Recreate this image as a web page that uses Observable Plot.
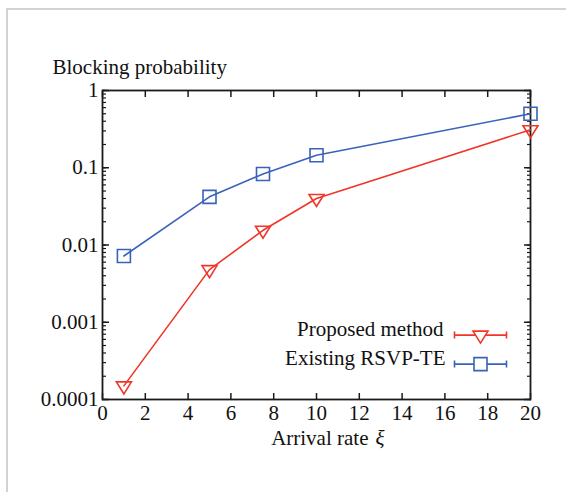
<!DOCTYPE html>
<html><head><meta charset="utf-8">
<script src="https://cdn.jsdelivr.net/npm/d3@7"></script>
<script src="https://cdn.jsdelivr.net/npm/@observablehq/plot@0.6"></script>
<style>
html,body{margin:0;padding:0;background:#fff;overflow:hidden;}
#wrap{position:relative;width:566px;height:492px;overflow:hidden;}
#border{position:absolute;left:6px;top:8px;width:700px;height:700px;border:2px solid #d2d2d2;box-sizing:border-box;}
#chart{position:absolute;left:0;top:0;}
</style></head><body>
<div id="wrap"><div id="border"></div><div id="chart"></div></div>
<script>
// Data
const arrivalRate = [1, 5, 7.5, 10, 20];
const proposed = [0.00015, 0.0048, 0.0155, 0.040, 0.31];
const existing = [0.0072, 0.042, 0.083, 0.145, 0.50];
const seriesNames = ["Proposed method", "Existing RSVP-TE"];
const seriesColors = ["#ef3629", "#3a62b9"];
const xTicks = [0, 2, 4, 6, 8, 10, 12, 14, 16, 18, 20];
const yTicks = [0.0001, 0.001, 0.01, 0.1, 1];
const yTickLabels = ["0.0001", "0.001", "0.01", "0.1", "1"];
const yTitle = "Blocking probability";
const xTitle = "Arrival rate";
const xSymbol = "ξ";

const propRows = arrivalRate.map((x, i) => ({x, y: proposed[i]}));
const existRows = arrivalRate.map((x, i) => ({x, y: existing[i]}));

// marker shapes
const triDown = {draw(c) { c.moveTo(-7.5, -4); c.lineTo(7.5, -4); c.lineTo(0, 8); c.closePath(); }};
const square = {draw(c) { c.moveTo(-6.5, -6.5); c.lineTo(6.5, -6.5); c.lineTo(6.5, 6.5); c.lineTo(-6.5, 6.5); c.closePath(); }};
const errbar = {draw(c) { c.moveTo(-26, 0); c.lineTo(26, 0); c.moveTo(-26, -3.5); c.lineTo(-26, 3.5); c.moveTo(26, -3.5); c.lineTo(26, 3.5); }};

const none = () => "";
const ink = "#1a1a1a";

const chart = Plot.plot({
  width: 566,
  height: 492,
  marginLeft: 102,
  marginRight: 36,
  marginTop: 90,
  marginBottom: 93,
  style: {fontFamily: "'Liberation Serif', 'Times New Roman', serif", fontSize: "21px", color: "#111", background: "transparent"},
  x: {domain: [0, 20], label: null},
  y: {type: "log", domain: [0.0001, 1], label: null},
  marks: [
    // axes
    Plot.axisX({ticks: xTicks, tickSize: 0, tickPadding: 6, tickFormat: d => String(d), label: null}),
    Plot.axisX({ticks: xTicks, tickSize: -6, tickFormat: none, label: null, stroke: ink, strokeWidth: 1.5}),
    Plot.axisX({anchor: "top", ticks: xTicks, tickSize: -6, tickFormat: none, label: null, stroke: ink, strokeWidth: 1.5}),
    Plot.axisY({ticks: yTicks, tickSize: 0, tickPadding: 4, tickFormat: d => yTickLabels[yTicks.indexOf(d)], label: null}),
    Plot.axisY({ticks: yTicks, tickSize: -7, tickFormat: none, label: null, stroke: ink, strokeWidth: 1.5}),
    Plot.axisY({tickSize: -4, tickFormat: none, label: null, stroke: ink, strokeWidth: 1.2}),
    Plot.axisY({anchor: "right", ticks: yTicks, tickSize: -7, tickFormat: none, label: null, stroke: ink, strokeWidth: 1.5}),
    Plot.axisY({anchor: "right", tickSize: -4, tickFormat: none, label: null, stroke: ink, strokeWidth: 1.2}),
    Plot.frame({stroke: ink, strokeWidth: 1.8}),
    // series
    Plot.line(existRows, {x: "x", y: "y", stroke: seriesColors[1], strokeWidth: 1.6}),
    Plot.line(propRows, {x: "x", y: "y", stroke: seriesColors[0], strokeWidth: 1.6}),
    Plot.dot(existRows, {x: "x", y: "y", symbol: square, stroke: seriesColors[1], strokeWidth: 1.6, fill: "none"}),
    Plot.dot(propRows, {x: "x", y: "y", symbol: triDown, stroke: seriesColors[0], strokeWidth: 1.6, fill: "none"}),
    // titles
    Plot.text([yTitle], {text: d => d, frameAnchor: "top-left", textAnchor: "start", lineAnchor: "bottom", dx: -50, dy: -17, fill: "#111"}),
    Plot.text([xTitle], {text: d => d, frameAnchor: "bottom", textAnchor: "end", lineAnchor: "bottom", dx: 52, dy: 45, fill: "#111"}),
    Plot.text([xSymbol], {text: d => d, frameAnchor: "bottom", textAnchor: "start", lineAnchor: "bottom", dx: 59, dy: 45, fontStyle: "italic", fill: "#111"}),
    // legend
    Plot.text([seriesNames[0]], {text: d => d, frameAnchor: "bottom-right", textAnchor: "end", dx: -87, dy: -63.5, fill: "#111"}),
    Plot.dot([seriesNames[0]], {frameAnchor: "bottom-right", dx: -50, dy: -64.4, symbol: errbar, stroke: seriesColors[0], strokeWidth: 1.6, fill: "none"}),
    Plot.dot([seriesNames[0]], {frameAnchor: "bottom-right", dx: -50, dy: -64.4, symbol: triDown, stroke: seriesColors[0], strokeWidth: 1.6, fill: "white"}),
    Plot.text([seriesNames[1]], {text: d => d, frameAnchor: "bottom-right", textAnchor: "end", dx: -85, dy: -34.5, fill: "#111"}),
    Plot.dot([seriesNames[1]], {frameAnchor: "bottom-right", dx: -50, dy: -35.4, symbol: errbar, stroke: seriesColors[1], strokeWidth: 1.6, fill: "none"}),
    Plot.dot([seriesNames[1]], {frameAnchor: "bottom-right", dx: -50, dy: -35.4, symbol: square, stroke: seriesColors[1], strokeWidth: 1.6, fill: "white"})
  ]
});
document.getElementById("chart").appendChild(chart);
</script>
</body></html>
